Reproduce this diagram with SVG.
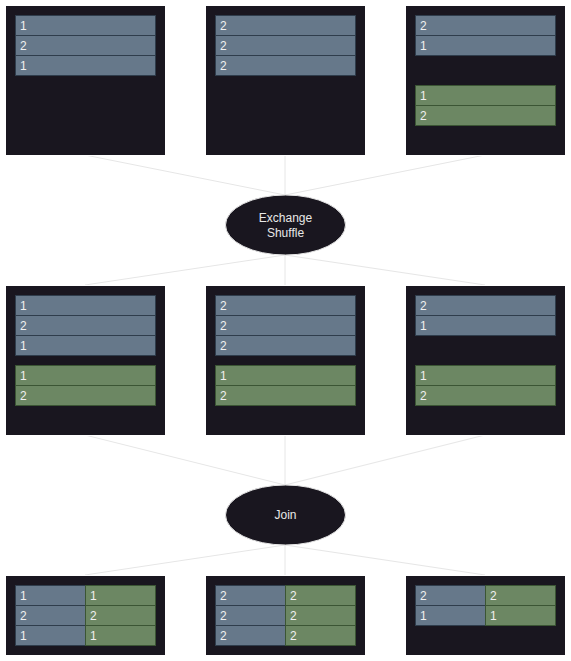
<svg xmlns="http://www.w3.org/2000/svg" width="571" height="661" viewBox="0 0 571 661">
<style>
.box{fill:#19161f;stroke:#ffffff;stroke-width:1}
.b{fill:#66788a;stroke:#2f3d4c;stroke-width:1}
.g{fill:#6c8763;stroke:#3b5534;stroke-width:1}
.t{font-family:"Liberation Sans",Arial,sans-serif;font-size:12px;fill:#f0f0f0}
.ell{fill:#19161f;stroke:#e6e6e6;stroke-width:1}
.et{font-family:"Liberation Sans",Arial,sans-serif;font-size:12px;fill:#e8e8e8;text-anchor:middle}
.c{stroke:#e6e6e6;stroke-width:1;fill:none}
</style>
<rect width="571" height="661" fill="#ffffff"/>
<g id="connectors">
<line class="c" x1="85" y1="155" x2="285" y2="195"/>
<line class="c" x1="285" y1="155" x2="285" y2="195"/>
<line class="c" x1="485" y1="155" x2="285" y2="195"/>
<line class="c" x1="285" y1="255" x2="85" y2="285"/>
<line class="c" x1="285" y1="255" x2="285" y2="285"/>
<line class="c" x1="285" y1="255" x2="485" y2="285"/>
<line class="c" x1="85" y1="435" x2="285" y2="485"/>
<line class="c" x1="285" y1="435" x2="285" y2="485"/>
<line class="c" x1="485" y1="435" x2="285" y2="485"/>
<line class="c" x1="285" y1="545" x2="85" y2="575"/>
<line class="c" x1="285" y1="545" x2="285" y2="575"/>
<line class="c" x1="285" y1="545" x2="485" y2="575"/>
</g>
<g id="top1">
<rect class="box" x="5.5" y="5.5" width="160" height="150"/>
<rect class="b" x="15.5" y="15.5" width="140" height="20"/><text class="t" x="20" y="30">1</text>
<rect class="b" x="15.5" y="35.5" width="140" height="20"/><text class="t" x="20" y="50">2</text>
<rect class="b" x="15.5" y="55.5" width="140" height="20"/><text class="t" x="20" y="70">1</text>
</g>
<g id="top2">
<rect class="box" x="205.5" y="5.5" width="160" height="150"/>
<rect class="b" x="215.5" y="15.5" width="140" height="20"/><text class="t" x="220" y="30">2</text>
<rect class="b" x="215.5" y="35.5" width="140" height="20"/><text class="t" x="220" y="50">2</text>
<rect class="b" x="215.5" y="55.5" width="140" height="20"/><text class="t" x="220" y="70">2</text>
</g>
<g id="top3">
<rect class="box" x="405.5" y="5.5" width="160" height="150"/>
<rect class="b" x="415.5" y="15.5" width="140" height="20"/><text class="t" x="420" y="30">2</text>
<rect class="b" x="415.5" y="35.5" width="140" height="20"/><text class="t" x="420" y="50">1</text>
<rect class="g" x="415.5" y="85.5" width="140" height="20"/><text class="t" x="420" y="100">1</text>
<rect class="g" x="415.5" y="105.5" width="140" height="20"/><text class="t" x="420" y="120">2</text>
</g>
<g id="exchange">
<ellipse class="ell" cx="285.5" cy="225" rx="60" ry="30"/>
<text class="et" x="285.5" y="222">Exchange</text>
<text class="et" x="285.5" y="237">Shuffle</text>
</g>
<g id="mid1">
<rect class="box" x="5.5" y="285.5" width="160" height="150"/>
<rect class="b" x="15.5" y="295.5" width="140" height="20"/><text class="t" x="20" y="310">1</text>
<rect class="b" x="15.5" y="315.5" width="140" height="20"/><text class="t" x="20" y="330">2</text>
<rect class="b" x="15.5" y="335.5" width="140" height="20"/><text class="t" x="20" y="350">1</text>
<rect class="g" x="15.5" y="365.5" width="140" height="20"/><text class="t" x="20" y="380">1</text>
<rect class="g" x="15.5" y="385.5" width="140" height="20"/><text class="t" x="20" y="400">2</text>
</g>
<g id="mid2">
<rect class="box" x="205.5" y="285.5" width="160" height="150"/>
<rect class="b" x="215.5" y="295.5" width="140" height="20"/><text class="t" x="220" y="310">2</text>
<rect class="b" x="215.5" y="315.5" width="140" height="20"/><text class="t" x="220" y="330">2</text>
<rect class="b" x="215.5" y="335.5" width="140" height="20"/><text class="t" x="220" y="350">2</text>
<rect class="g" x="215.5" y="365.5" width="140" height="20"/><text class="t" x="220" y="380">1</text>
<rect class="g" x="215.5" y="385.5" width="140" height="20"/><text class="t" x="220" y="400">2</text>
</g>
<g id="mid3">
<rect class="box" x="405.5" y="285.5" width="160" height="150"/>
<rect class="b" x="415.5" y="295.5" width="140" height="20"/><text class="t" x="420" y="310">2</text>
<rect class="b" x="415.5" y="315.5" width="140" height="20"/><text class="t" x="420" y="330">1</text>
<rect class="g" x="415.5" y="365.5" width="140" height="20"/><text class="t" x="420" y="380">1</text>
<rect class="g" x="415.5" y="385.5" width="140" height="20"/><text class="t" x="420" y="400">2</text>
</g>
<g id="join">
<ellipse class="ell" cx="285.5" cy="515" rx="60" ry="30"/>
<text class="et" x="285.5" y="519">Join</text>
</g>
<g id="bot1">
<rect class="box" x="5.5" y="575.5" width="160" height="80"/>
<rect class="b" x="15.5" y="585.5" width="70" height="20"/><text class="t" x="20" y="600">1</text>
<rect class="g" x="85.5" y="585.5" width="70" height="20"/><text class="t" x="90" y="600">1</text>
<rect class="b" x="15.5" y="605.5" width="70" height="20"/><text class="t" x="20" y="620">2</text>
<rect class="g" x="85.5" y="605.5" width="70" height="20"/><text class="t" x="90" y="620">2</text>
<rect class="b" x="15.5" y="625.5" width="70" height="20"/><text class="t" x="20" y="640">1</text>
<rect class="g" x="85.5" y="625.5" width="70" height="20"/><text class="t" x="90" y="640">1</text>
</g>
<g id="bot2">
<rect class="box" x="205.5" y="575.5" width="160" height="80"/>
<rect class="b" x="215.5" y="585.5" width="70" height="20"/><text class="t" x="220" y="600">2</text>
<rect class="g" x="285.5" y="585.5" width="70" height="20"/><text class="t" x="290" y="600">2</text>
<rect class="b" x="215.5" y="605.5" width="70" height="20"/><text class="t" x="220" y="620">2</text>
<rect class="g" x="285.5" y="605.5" width="70" height="20"/><text class="t" x="290" y="620">2</text>
<rect class="b" x="215.5" y="625.5" width="70" height="20"/><text class="t" x="220" y="640">2</text>
<rect class="g" x="285.5" y="625.5" width="70" height="20"/><text class="t" x="290" y="640">2</text>
</g>
<g id="bot3">
<rect class="box" x="405.5" y="575.5" width="160" height="80"/>
<rect class="b" x="415.5" y="585.5" width="70" height="20"/><text class="t" x="420" y="600">2</text>
<rect class="g" x="485.5" y="585.5" width="70" height="20"/><text class="t" x="490" y="600">2</text>
<rect class="b" x="415.5" y="605.5" width="70" height="20"/><text class="t" x="420" y="620">1</text>
<rect class="g" x="485.5" y="605.5" width="70" height="20"/><text class="t" x="490" y="620">1</text>
</g>
</svg>
